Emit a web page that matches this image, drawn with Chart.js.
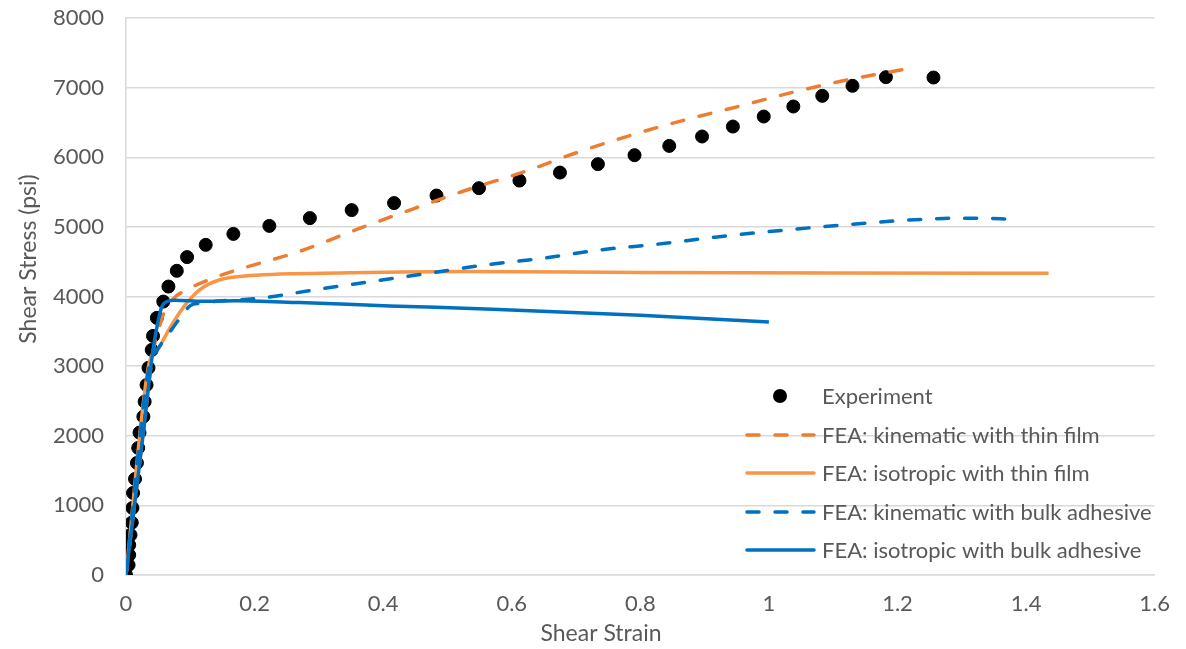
<!DOCTYPE html>
<html>
<head>
<meta charset="utf-8">
<script src="https://cdn.jsdelivr.net/npm/chart.js@4.4.1/dist/chart.umd.min.js"></script>
<style>
  body { margin: 0; background: #fff; }
  #wrap { width: 1186px; height: 649px; }
</style>
</head>
<body>
<div id="wrap"><canvas id="grafico" width="1186" height="649"></canvas></div>
<script>
// Datos
const expStrain = [0, 0.004, 0.005, 0.005, 0.007, 0.009, 0.010, 0.011, 0.014, 0.017, 0.019, 0.021, 0.027, 0.029, 0.032, 0.035, 0.040, 0.042, 0.048, 0.058, 0.066, 0.079, 0.095, 0.124, 0.167, 0.223, 0.286, 0.351, 0.417, 0.483, 0.549, 0.612, 0.675, 0.734, 0.791, 0.845, 0.896, 0.944, 0.992, 1.038, 1.083, 1.130, 1.182, 1.256];
const expStress = [0, 144, 287, 431, 575, 752, 963, 1178, 1380, 1610, 1825, 2045, 2275, 2490, 2730, 2975, 3233, 3434, 3693, 3927, 4143, 4369, 4566, 4742, 4899, 5014, 5126, 5241, 5342, 5450, 5556, 5665, 5780, 5901, 6030, 6163, 6298, 6441, 6585, 6729, 6882, 7026, 7150, 7145];

const kinThinStrain = [0, 0.027, 0.042, 0.050, 0.060, 0.075, 0.094, 0.135, 0.177, 0.269, 0.364, 0.447, 0.530, 0.619, 0.696, 0.776, 0.864, 0.952, 1.040, 1.128, 1.207];
const kinThinStress = [0, 2045, 3200, 3500, 3790, 3980, 4095, 4263, 4393, 4645, 4981, 5260, 5530, 5790, 6050, 6290, 6523, 6728, 6940, 7122, 7256];

const isoThinStrain = [0, 0.035, 0.050, 0.073, 0.094, 0.115, 0.146, 0.192, 0.350, 0.530, 0.800, 1.100, 1.435];
const isoThinStress = [0, 3000, 3250, 3620, 3900, 4100, 4240, 4300, 4340, 4360, 4345, 4338, 4335];

const kinBulkStrain = [0, 0.035, 0.050, 0.063, 0.084, 0.100, 0.115, 0.209, 0.293, 0.381, 0.471, 0.560, 0.648, 0.738, 0.826, 0.916, 1.028, 1.205, 1.244, 1.289, 1.334, 1.373];
const kinBulkStress = [0, 2950, 3250, 3420, 3690, 3870, 3904, 3976, 4095, 4214, 4335, 4454, 4550, 4670, 4751, 4852, 4957, 5091, 5111, 5125, 5125, 5111];

const isoBulkStrain = [0, 0.027, 0.042, 0.050, 0.056, 0.063, 0.075, 0.120, 0.170, 0.270, 0.410, 0.570, 0.800, 1.000];
const isoBulkStress = [0, 2045, 3233, 3650, 3860, 3925, 3945, 3930, 3940, 3913, 3865, 3818, 3730, 3635];

const etiquetas = ["Experiment", "FEA: kinematic with thin film", "FEA: isotropic with thin film", "FEA: kinematic with bulk adhesive", "FEA: isotropic with bulk adhesive"];

const FUENTE = "Lato, 'Open Sans', sans-serif";
const GRIS = "#595959";

function puntos(xs, ys) {
  return xs.map((x, i) => ({ x: x, y: ys[i] }));
}

// Leyenda y titulos dibujados dentro del area
const extras = {
  id: "extras",
  afterDraw(chart) {
    const ctx = chart.ctx;
    ctx.save();
    ctx.fillStyle = GRIS;
    ctx.font = "23px " + FUENTE;
    ctx.textAlign = "center";
    ctx.textBaseline = "middle";
    ctx.fillText("Shear Strain", 601, 634);
    ctx.translate(29, 259);
    ctx.rotate(-Math.PI / 2);
    ctx.fillText("Shear Stress (psi)", 0, 0);
    ctx.restore();

    // leyenda
    const filas = [396, 435, 473, 512, 550];
    ctx.save();
    ctx.font = "22px " + FUENTE;
    ctx.textBaseline = "middle";
    ctx.textAlign = "left";
    chart.data.datasets.forEach((ds, i) => {
      const y = filas[i];
      if (i === 0) {
        ctx.beginPath();
        ctx.fillStyle = "#000";
        ctx.arc(780, y, 7, 0, Math.PI * 2);
        ctx.fill();
      } else {
        ctx.beginPath();
        ctx.strokeStyle = ds.borderColor;
        ctx.lineWidth = 3.5;
        ctx.lineCap = "round";
        ctx.setLineDash(ds.borderDash && ds.borderDash.length ? [12, 16] : []);
        ctx.moveTo(747, y);
        ctx.lineTo(814, y);
        ctx.stroke();
        ctx.setLineDash([]);
      }
      ctx.fillStyle = GRIS;
      ctx.fillText(etiquetas[i], 822, y + 1);
    });
    ctx.restore();
  }
};

const contexto = document.getElementById("grafico").getContext("2d");
new Chart(contexto, {
  type: "scatter",
  data: {
    datasets: [
      {
        label: etiquetas[0],
        data: puntos(expStrain, expStress),
        backgroundColor: "#000",
        borderColor: "#000",
        pointRadius: 6.5,
        pointHoverRadius: 6.5,
        showLine: false,
        order: 5,
      },
      {
        label: etiquetas[1],
        data: puntos(kinThinStrain, kinThinStress),
        borderColor: "#ED7D31",
        borderWidth: 3.5,
        borderDash: [12, 16],
        borderCapStyle: "round",
        pointRadius: 0,
        showLine: true,
        cubicInterpolationMode: "monotone",
        order: 4,
      },
      {
        label: etiquetas[2],
        data: puntos(isoThinStrain, isoThinStress),
        borderColor: "#F79646",
        borderWidth: 3.5,
        pointRadius: 0,
        showLine: true,
        cubicInterpolationMode: "monotone",
        order: 3,
      },
      {
        label: etiquetas[3],
        data: puntos(kinBulkStrain, kinBulkStress),
        borderColor: "#0070C0",
        borderWidth: 3.5,
        borderDash: [12, 16],
        borderCapStyle: "round",
        pointRadius: 0,
        showLine: true,
        cubicInterpolationMode: "monotone",
        order: 2,
      },
      {
        label: etiquetas[4],
        data: puntos(isoBulkStrain, isoBulkStress),
        borderColor: "#0070C0",
        borderWidth: 3.5,
        pointRadius: 0,
        showLine: true,
        cubicInterpolationMode: "monotone",
        order: 1,
      },
    ],
  },
  options: {
    responsive: false,
    animation: false,
    layout: { padding: { left: 0, right: 28, top: 18, bottom: 0 } },
    plugins: {
      legend: { display: false },
      tooltip: { enabled: false },
    },
    scales: {
      x: {
        type: "linear",
        min: 0,
        max: 1.6,
        ticks: {
          stepSize: 0.2,
          padding: 16,
          color: GRIS,
          font: { family: FUENTE, size: 22 },
          callback: (v) => String(+v.toFixed(1)),
        },
        grid: { display: false, drawTicks: false },
        border: { display: true, color: "#D9D9D9", width: 1.5 },
        afterFit: (scale) => { scale.height = 74; },
      },
      y: {
        type: "linear",
        min: 0,
        max: 8000,
        ticks: {
          stepSize: 1000,
          padding: 22,
          color: GRIS,
          font: { family: FUENTE, size: 22 },
          callback: (v) => String(v),
        },
        grid: { color: "#D9D9D9", lineWidth: 1.5, drawTicks: false },
        border: { display: true, color: "#D9D9D9", width: 1.5 },
        afterFit: (scale) => {
          scale.width = 126;
          scale.paddingTop = 0; // el padding de los ticks empujaba el area hacia abajo
        },
      },
    },
  },
  plugins: [extras],
});
</script>
</body>
</html>
